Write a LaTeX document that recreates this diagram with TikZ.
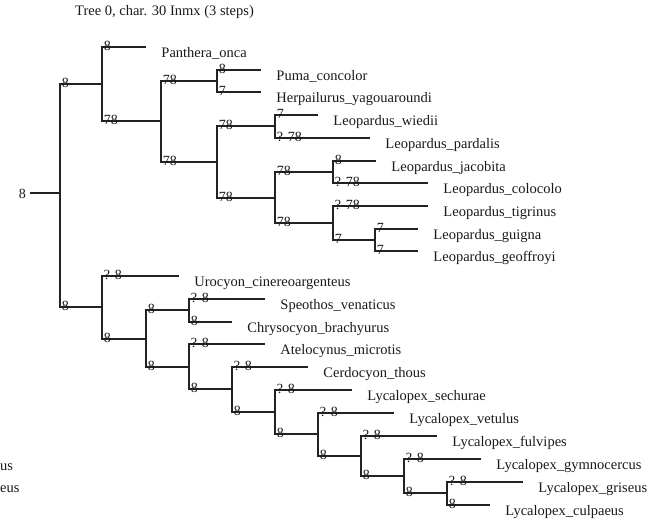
\documentclass[tikz,border=0pt]{standalone}
\usepackage{fontspec}
\setmainfont{Liberation Serif}
\definecolor{linec}{HTML}{222222}
\definecolor{txt}{HTML}{1A1A1A}
\begin{document}
\begin{tikzpicture}[x=1pt,y=-1pt,
  br/.style={line width=1.9pt, draw=linec},
  lab/.style={font=\fontsize{14}{14}\selectfont, text=txt, inner sep=0pt, anchor=base west},
  leaf/.style={font=\fontsize{14.5}{15}\selectfont, text=txt, inner sep=0pt, anchor=base west}]
\useasboundingbox (0,0) rectangle (667,523);
% title and clipped texts
\node[leaf] (title) at (75,15) {Tree 0, char. 30 Inmx (3 steps)};
\node[leaf] (cut1) at (0,470) {us};
\node[leaf] (cut2) at (0,492) {eus};
% internal nodes
\coordinate (R0) at (30,193);
\coordinate (R) at (60,193);
\coordinate (F9) at (102,84);
\coordinate (F8) at (161,121);
\coordinate (F1) at (217,81);
\coordinate (F7) at (217,162);
\coordinate (F2) at (275,126);
\coordinate (F6) at (275,198);
\coordinate (F3) at (333,172);
\coordinate (F5) at (333,223);
\coordinate (F4) at (375,240);
\coordinate (C10) at (102,307);
\coordinate (C9) at (146,339);
\coordinate (C8) at (189,310);
\coordinate (C7) at (189,367);
\coordinate (C6) at (232,389);
\coordinate (C5) at (275,412);
\coordinate (C4) at (318,434);
\coordinate (C3) at (361,456);
\coordinate (C2) at (404,476);
\coordinate (C1) at (447,493);
% leaf ends
\coordinate (Lpan) at (146,47);
\coordinate (Lpum) at (261,70);
\coordinate (Lher) at (261,92);
\coordinate (Lwie) at (318,115);
\coordinate (Lpar) at (370,138);
\coordinate (Ljac) at (376,161);
\coordinate (Lcol) at (428,183);
\coordinate (Ltig) at (428,206);
\coordinate (Lgui) at (418,229);
\coordinate (Lgeo) at (418,251);
\coordinate (Luro) at (179,276);
\coordinate (Lspe) at (265,299);
\coordinate (Lchr) at (232,322);
\coordinate (Late) at (265,344);
\coordinate (Lcer) at (308,367);
\coordinate (Lsec) at (352,390);
\coordinate (Lvet) at (394,413);
\coordinate (Lful) at (437,436);
\coordinate (Lgym) at (481,459);
\coordinate (Lgri) at (523,482);
\coordinate (Lcul) at (490,505);
% root
\draw[br] (R0) -- (R);
\node[lab, anchor=base east] (rootlab) at ([xshift=-4pt,yshift=-5pt]R0) {8};
% internal branches
\foreach \p/\c/\l in {R/F9/8, F9/F8/78, F8/F1/78, F8/F7/78, F7/F2/78, F7/F6/78,
  F6/F3/78, F6/F5/78, F5/F4/7, R/C10/8, C10/C9/8, C9/C8/8, C9/C7/8, C7/C6/8,
  C6/C5/8, C5/C4/8, C4/C3/8, C3/C2/8, C2/C1/8}
  \draw[br] (\p) |- (\c) node[lab, pos=0.5, xshift=1pt, yshift=-3.5pt] (b\c) {\l};
% leaf branches
\foreach \p/\c/\l/\n in {F9/Lpan/8/Panthera\_onca, F1/Lpum/8/Puma\_concolor,
  F1/Lher/7/Herpailurus\_yagouaroundi, F2/Lwie/7/Leopardus\_wiedii,
  F2/Lpar/?-78/Leopardus\_pardalis, F3/Ljac/8/Leopardus\_jacobita,
  F3/Lcol/?-78/Leopardus\_colocolo, F5/Ltig/?-78/Leopardus\_tigrinus,
  F4/Lgui/7/Leopardus\_guigna, F4/Lgeo/7/Leopardus\_geoffroyi,
  C10/Luro/?-8/Urocyon\_cinereoargenteus, C8/Lspe/?-8/Speothos\_venaticus,
  C8/Lchr/8/Chrysocyon\_brachyurus, C7/Late/?-8/Atelocynus\_microtis,
  C6/Lcer/?-8/Cerdocyon\_thous, C5/Lsec/?-8/Lycalopex\_sechurae,
  C4/Lvet/?-8/Lycalopex\_vetulus, C3/Lful/?-8/Lycalopex\_fulvipes,
  C2/Lgym/?-8/Lycalopex\_gymnocercus, C1/Lgri/?-8/Lycalopex\_griseus,
  C1/Lcul/8/Lycalopex\_culpaeus}
  \draw[br] (\p) |- (\c) node[lab, pos=0.5, xshift=1pt, yshift=-3.5pt] (b\c) {\l}
     node[leaf, pos=1, xshift=14.5pt, yshift=-10pt] (t\c) {\n};
\end{tikzpicture}
\end{document}
